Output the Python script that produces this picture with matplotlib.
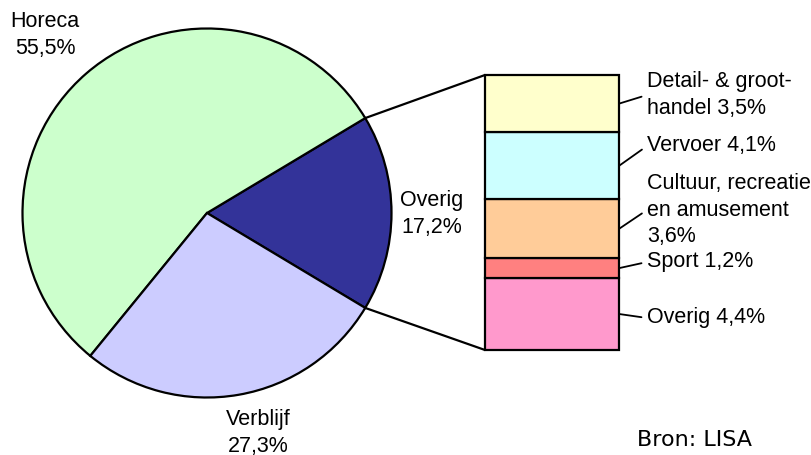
import numpy as np
import matplotlib
matplotlib.use("Agg")
import matplotlib.pyplot as plt
from matplotlib.patches import ConnectionPatch

# main pie: sectors and their shares (%)
pie_labels = ["Overig", "Horeca", "Verblijf"]
pie_values = [17.2, 55.5, 27.3]
pie_colors = ["#333399", "#CCFFCC", "#CCCCFF"]

# breakdown of "Overig", stacked from bottom to top
bar_labels = ["Overig 4,4%", "Sport 1,2%", "Cultuur, recreatie\nen amusement\n3,6%",
              "Vervoer 4,1%", "Detail- & groot-\nhandel 3,5%"]
bar_values = [4.4, 1.2, 3.6, 4.1, 3.5]
bar_colors = ["#FF99CC", "#FF8080", "#FFCC99", "#CCFFFF", "#FFFFCC"]

W, H = 812, 455
FONT = "Liberation Sans"
FS = 15.5
LS = 1.33

fig = plt.figure(figsize=(W / 100, H / 100), dpi=100)
ax = fig.add_axes([0, 0, 1, 1])

# pie, with "Overig" centred on the right-hand side
center = (207, 242)
radius = 184.5
half = 360 * pie_values[0] / 100 / 2
ax.pie(pie_values, colors=pie_colors, startangle=-half, counterclock=True,
       center=center, radius=radius,
       wedgeprops=dict(edgecolor="black", linewidth=1.6))
ax.set_xlim(0, W)
ax.set_ylim(0, H)
ax.set_aspect("equal")
ax.set_axis_off()

txt = dict(fontsize=FS, family=FONT, ha="center", va="center", linespacing=LS)
ax.text(45, 420, "Horeca\n55,5%", **txt)
ax.text(258, 22, "Verblijf\n27,3%", **txt)
ax.text(432, 241, "Overig\n17,2%", **txt)

# stacked bar with the split of "Overig"
bx0, by0, bw, bh = 485, H - 350, 134, 275
bax = fig.add_axes([bx0 / W, by0 / H, bw / W, bh / H])
total = sum(bar_values)
bottoms = np.concatenate([[0], np.cumsum(bar_values)[:-1]])
bars = bax.bar(0.5, bar_values, width=1.0, bottom=bottoms, color=bar_colors,
               edgecolor="black", linewidth=1.6)
for b in bars:
    b.set_clip_on(False)
bax.set_xlim(0, 1)
bax.set_ylim(0, total)
bax.set_axis_off()

# segment labels with short leader lines
text_y = [137, 193, 245, 309, 360]
for lab, bot, val, ty in zip(bar_labels, bottoms, bar_values, text_y):
    bax.annotate(lab, xy=(1.0, bot + val / 2), xycoords="data",
                 xytext=(647, ty), textcoords="figure pixels",
                 fontsize=FS, family=FONT, ha="left", va="center",
                 linespacing=LS,
                 arrowprops=dict(arrowstyle="-", color="black", lw=1.3,
                                 relpos=(0, 0.5), shrinkA=2, shrinkB=0))

# connectors from the "Overig" wedge to the bar
for sign, yb in ((1, total), (-1, 0)):
    a = np.radians(sign * half)
    p = (center[0] + radius * np.cos(a), center[1] + radius * np.sin(a))
    con = ConnectionPatch(xyA=p, coordsA=ax.transData, xyB=(0, yb),
                          coordsB=bax.transData, color="black", lw=1.6)
    fig.add_artist(con)

fig.text(637 / W, 15 / H, "Bron: LISA", fontsize=16, family="DejaVu Sans",
         ha="left", va="center")

fig.savefig("out.png", dpi=100, facecolor="white")
